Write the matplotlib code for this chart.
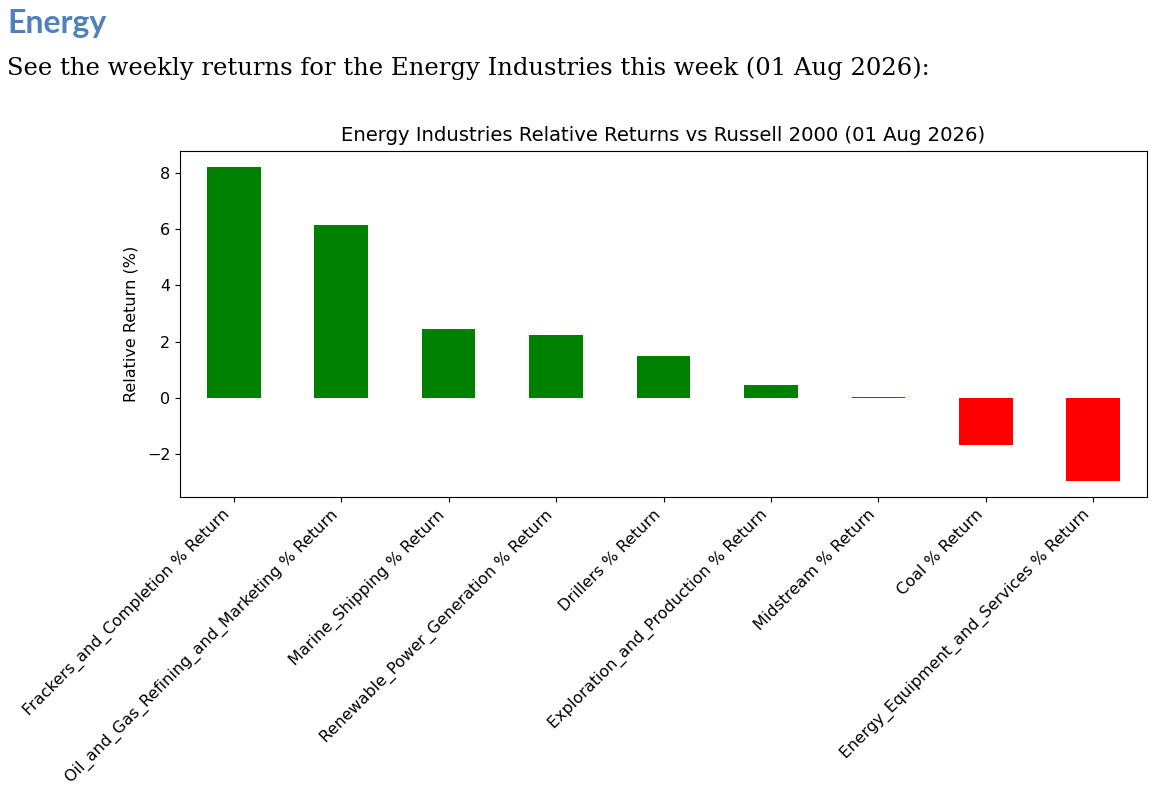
import matplotlib
matplotlib.use("Agg")
import matplotlib.pyplot as plt

categories = [
    "Frackers_and_Completion % Return",
    "Oil_and_Gas_Refining_and_Marketing % Return",
    "Marine_Shipping % Return",
    "Renewable_Power_Generation % Return",
    "Drillers % Return",
    "Exploration_and_Production % Return",
    "Midstream % Return",
    "Coal % Return",
    "Energy_Equipment_and_Services % Return",
]
values = [8.22, 6.15, 2.45, 2.24, 1.48, 0.45, 0.03, -1.68, -2.96]

header = "Energy"
subtitle = "See the weekly returns for the Energy Industries this week (01 Aug 2026):"
chart_title = "Energy Industries Relative Returns vs Russell 2000 (01 Aug 2026)"
ylabel = "Relative Return (%)"

fig = plt.figure(figsize=(11.59, 7.96), dpi=100)
fig.text(7/1159, 1-23/796, header, fontsize=23, fontweight="bold", color="#4F81BD",
         family=["Lato", "DejaVu Sans"], va="center", ha="left")
fig.text(7/1159, 1-68/796, subtitle, fontsize=17.5, color="black",
         family=["DejaVu Serif"], va="center", ha="left")

ax = fig.add_axes([180/1159, 1-497/796, (1147-180)/1159, (497-151)/796])
colors = ["green" if v >= 0 else "red" for v in values]
x = list(range(len(categories)))
ax.bar(x, values, width=0.5, color=colors)
ax.set_xlim(-0.5, len(categories) - 0.5)
ax.set_xticks(x)
ax.set_xticklabels(categories, rotation=45, ha="right", fontsize=11.5)
ax.tick_params(axis="y", labelsize=11.5)
ax.set_title(chart_title, fontsize=14.1, pad=7.5)
ax.set_ylabel(ylabel, fontsize=11.5, labelpad=6)

fig.savefig("out.png", dpi=100)
